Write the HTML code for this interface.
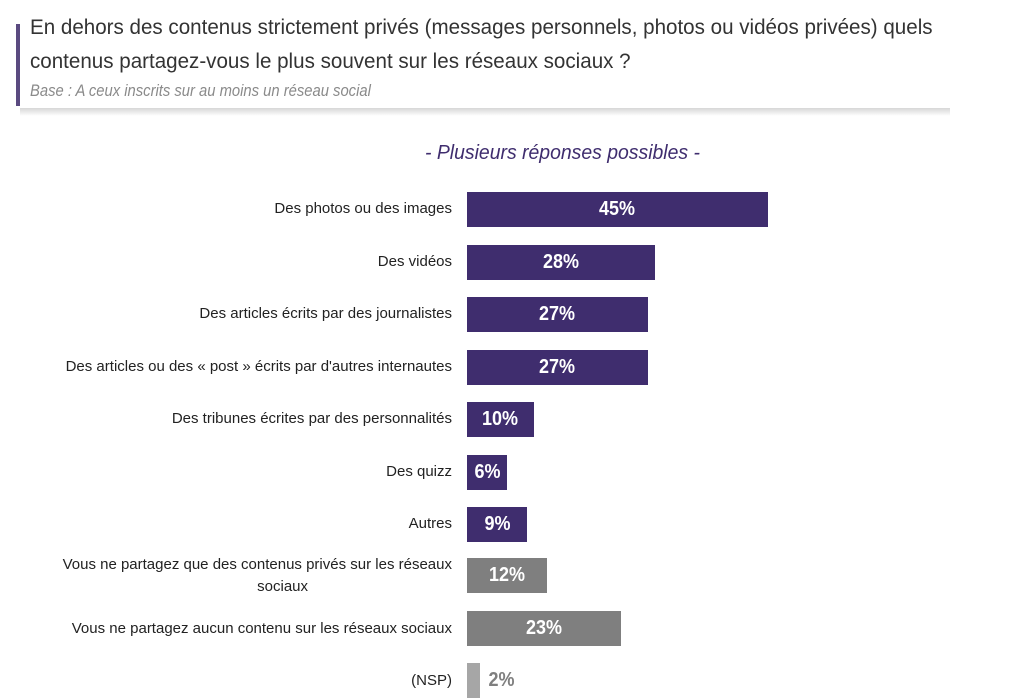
<!DOCTYPE html>
<html><head><meta charset="utf-8"><style>
body{margin:0;width:1016px;height:698px;background:#fff;position:relative;overflow:hidden;font-family:"Liberation Sans Narrow","Liberation Sans",sans-serif}
.t{position:absolute;white-space:nowrap;transform-origin:left top}
.lab{position:absolute;right:564px;text-align:right;font-size:15px;color:#222;transform:scaleX(1.0);transform-origin:right center;line-height:18px;white-space:nowrap}
.bar{position:absolute;left:467px;height:35px;color:#fff;font-weight:bold;font-size:20px;text-align:center;line-height:35px}
.bar span{display:inline-block;transform:scaleX(0.9)}
</style></head><body>
<div style="position:absolute;left:16px;top:24px;width:4px;height:82px;background:#5a4a80"></div>
<div style="position:absolute;left:20px;top:108px;width:930px;height:8px;background:linear-gradient(#ccc,rgba(255,255,255,0));opacity:.8"></div>
<div class="t" style="left:30px;top:16px;font-size:21px;color:#333;transform:scaleX(0.98)">En dehors des contenus strictement privés (messages personnels, photos ou vidéos privées) quels</div>
<div class="t" style="left:30px;top:50px;font-size:21px;color:#333;transform:scaleX(0.98)">contenus partagez-vous le plus souvent sur les réseaux sociaux ?</div>
<div class="t" style="left:30px;top:81px;font-size:17px;color:#8a8a8a;font-style:italic;transform:scaleX(0.87)">Base : A ceux inscrits sur au moins un réseau social</div>
<div class="t" style="left:425px;top:142px;font-size:20px;color:#3f2d6e;font-style:italic;transform:scaleX(0.97)">- Plusieurs réponses possibles -</div>

<div class="lab" style="top:200px">Des photos ou des images</div>
<div class="lab" style="top:253px">Des vidéos</div>
<div class="lab" style="top:305px">Des articles écrits par des journalistes</div>
<div class="lab" style="top:358px">Des articles ou des « post » écrits par d'autres internautes</div>
<div class="lab" style="top:410px">Des tribunes écrites par des personnalités</div>
<div class="lab" style="top:463px">Des quizz</div>
<div class="lab" style="top:515px">Autres</div>
<div class="lab" style="top:554px;line-height:22px">Vous ne partagez que des contenus privés sur les réseaux<br><span style="padding-right:144px">sociaux</span></div>
<div class="lab" style="top:620px">Vous ne partagez aucun contenu sur les réseaux sociaux</div>
<div class="lab" style="top:672px">(NSP)</div>

<div class="bar" style="top:192px;width:301px;background:#3f2d6e"><span>45%</span></div>
<div class="bar" style="top:245px;width:188px;background:#3f2d6e"><span>28%</span></div>
<div class="bar" style="top:297px;width:181px;background:#3f2d6e"><span>27%</span></div>
<div class="bar" style="top:350px;width:181px;background:#3f2d6e"><span>27%</span></div>
<div class="bar" style="top:402px;width:67px;background:#3f2d6e"><span>10%</span></div>
<div class="bar" style="top:455px;width:40px;background:#3f2d6e"><span>6%</span></div>
<div class="bar" style="top:507px;width:60px;background:#3f2d6e"><span>9%</span></div>
<div class="bar" style="top:558px;width:80px;background:#7f7f7f"><span>12%</span></div>
<div class="bar" style="top:611px;width:154px;background:#7f7f7f"><span>23%</span></div>
<div class="bar" style="top:663px;width:13px;background:#a6a6a6"></div>
<div class="bar" style="top:663px;left:486px;width:30px;color:#7f7f7f"><span>2%</span></div>
</body></html>
